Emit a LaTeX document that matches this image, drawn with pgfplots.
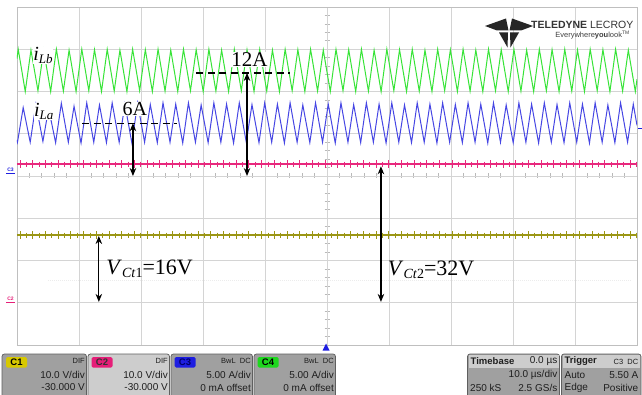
\documentclass[border=0pt]{standalone}
\usepackage{fontspec}
\setmainfont{Liberation Serif}
\newfontfamily\arial{Liberation Sans}
\usepackage{pgfplots}
\usepackage{pgfplotstable}
\pgfplotsset{compat=1.18}
\usetikzlibrary{arrows.meta}
\definecolor{trgreen}{RGB}{55,228,55}
\definecolor{trblue}{RGB}{70,70,228}
\definecolor{trpink}{RGB}{232,40,125}
\definecolor{trolive}{RGB}{155,150,20}
\definecolor{gridc}{RGB}{212,212,212}
\definecolor{boxbody}{RGB}{160,160,160}
\definecolor{boxlight}{RGB}{205,205,205}
\definecolor{boxedge}{RGB}{95,95,95}
\definecolor{lyellow}{RGB}{215,200,0}
\definecolor{lpink}{RGB}{230,30,120}
\definecolor{lblue}{RGB}{30,30,225}
\definecolor{lgreen}{RGB}{30,215,30}
\definecolor{txt}{RGB}{30,30,30}

\pgfplotstableread[row sep=\\]{
x yp yo\\
0.50 0.28 -1.40\\ 1.53 0.28 -1.40\\ 2.55 0.28 -1.40\\ 3.58 0.28 -1.40\\ 4.60 0.28 -1.40\\
5.63 0.28 -1.40\\ 6.65 0.28 -1.40\\ 7.68 0.28 -1.40\\ 8.70 0.28 -1.40\\ 9.73 0.28 -1.40\\
10.75 0.28 -1.40\\ 11.78 0.28 -1.40\\ 12.80 0.28 -1.40\\ 13.83 0.28 -1.40\\ 14.85 0.28 -1.40\\
15.88 0.28 -1.40\\ 16.90 0.28 -1.40\\ 17.93 0.28 -1.40\\ 18.95 0.28 -1.40\\ 19.98 0.28 -1.40\\
21.00 0.28 -1.40\\ 22.03 0.28 -1.40\\ 23.05 0.28 -1.40\\ 24.08 0.28 -1.40\\ 25.10 0.28 -1.40\\
26.13 0.28 -1.40\\ 27.15 0.28 -1.40\\ 28.18 0.28 -1.40\\ 29.20 0.28 -1.40\\ 30.23 0.28 -1.40\\
31.25 0.28 -1.40\\ 32.28 0.28 -1.40\\ 33.30 0.28 -1.40\\ 34.33 0.28 -1.40\\ 35.35 0.28 -1.40\\
36.38 0.28 -1.40\\ 37.40 0.28 -1.40\\ 38.43 0.28 -1.40\\ 39.45 0.28 -1.40\\ 40.48 0.28 -1.40\\
41.50 0.28 -1.40\\ 42.53 0.28 -1.40\\ 43.55 0.28 -1.40\\ 44.58 0.28 -1.40\\ 45.60 0.28 -1.40\\
46.63 0.28 -1.40\\ 47.65 0.28 -1.40\\ 48.68 0.28 -1.40\\ 49.70 0.28 -1.40\\ 50.73 0.28 -1.40\\
51.75 0.28 -1.40\\ 52.78 0.28 -1.40\\ 53.80 0.28 -1.40\\ 54.83 0.28 -1.40\\ 55.85 0.28 -1.40\\
56.88 0.28 -1.40\\ 57.90 0.28 -1.40\\ 58.93 0.28 -1.40\\ 59.95 0.28 -1.40\\ 60.98 0.28 -1.40\\
62.00 0.28 -1.40\\ 63.03 0.28 -1.40\\ 64.05 0.28 -1.40\\ 65.08 0.28 -1.40\\ 66.10 0.28 -1.40\\
67.13 0.28 -1.40\\ 68.15 0.28 -1.40\\ 69.18 0.28 -1.40\\ 70.20 0.28 -1.40\\ 71.23 0.28 -1.40\\
72.25 0.28 -1.40\\ 73.28 0.28 -1.40\\ 74.30 0.28 -1.40\\ 75.33 0.28 -1.40\\ 76.35 0.28 -1.40\\
77.38 0.28 -1.40\\ 78.40 0.28 -1.40\\ 79.43 0.28 -1.40\\ 80.45 0.28 -1.40\\ 81.48 0.28 -1.40\\
82.50 0.28 -1.40\\ 83.53 0.28 -1.40\\ 84.55 0.28 -1.40\\ 85.58 0.28 -1.40\\ 86.60 0.28 -1.40\\
87.63 0.28 -1.40\\ 88.65 0.28 -1.40\\ 89.68 0.28 -1.40\\ 90.70 0.28 -1.40\\ 91.73 0.28 -1.40\\
92.75 0.28 -1.40\\ 93.78 0.28 -1.40\\ 94.80 0.28 -1.40\\ 95.83 0.28 -1.40\\ 96.85 0.28 -1.40\\
97.88 0.28 -1.40\\ 98.90 0.28 -1.40\\ 99.93 0.28 -1.40\\
}\spikes

\begin{document}
\begin{tikzpicture}[x=1pt,y=1pt]
\useasboundingbox (0,0) rectangle (642,394);
\fill[white] (0,0) rectangle (642,394);
% centre-axis minor ticks (pixel coordinates)
\begin{scope}[shift={(0,394)}, y=-1pt]
\foreach \i in {0,...,50} \draw[gray!55, line width=0.7pt] ({17+\i*12.4},173.5) -- ({17+\i*12.4},178.5);
\foreach \j in {0,...,40} \draw[gray!55, line width=0.7pt] (324.5,{7+\j*8.45}) -- (329.5,{7+\j*8.45});
\end{scope}
\begin{axis}[at={(17pt,49pt)}, anchor=south west, scale only axis,
  width=620pt, height=338pt,
  xmin=0, xmax=100, ymin=-4, ymax=4,
  xtick={0,10,...,100}, ytick={-4,-3,...,4},
  xticklabels={}, yticklabels={}, major tick length=0pt,
  grid=major, grid style={gridc, line width=0.9pt},
  axis line style={draw=gray!50, line width=0.9pt},
  clip=true]
% faint ghost trace
\draw[gray!15, densely dotted, line width=1pt] (axis cs:5,-2.48) -- (axis cs:99,-2.48);
% iLb (green)
\addplot[trgreen, line width=1pt, mark=none] coordinates {
(0,2.78) (0.20,3.00) (1.33,2.00) (2.25,2.98) (3.38,2.02) (4.30,2.98) (5.43,2.00) (6.35,3.00)
(7.48,2.01) (8.40,2.98) (9.53,2.00) (10.45,3.00) (11.58,2.02) (12.50,2.99) (13.63,2.00) (14.55,3.00)
(15.68,2.01) (16.60,2.98) (17.73,2.00) (18.65,3.00) (19.78,2.02) (20.70,2.99) (21.83,2.00) (22.75,3.00)
(23.88,2.01) (24.80,2.98) (25.93,2.00) (26.85,3.00) (27.98,2.02) (28.90,2.99) (30.03,2.00) (30.95,3.00)
(32.08,2.01) (33.00,2.98) (34.13,2.00) (35.05,3.00) (36.18,2.02) (37.10,2.99) (38.23,2.00) (39.15,3.00)
(40.28,2.01) (41.20,2.98) (42.33,2.00) (43.25,3.00) (44.38,2.02) (45.30,2.99) (46.43,2.00) (47.35,3.00)
(48.48,2.01) (49.40,2.98) (50.53,2.00) (51.45,3.00) (52.58,2.02) (53.50,2.99) (54.63,2.00) (55.55,3.00)
(56.68,2.01) (57.60,2.98) (58.73,2.00) (59.65,3.00) (60.78,2.02) (61.70,2.99) (62.83,2.00) (63.75,3.00)
(64.88,2.01) (65.80,2.98) (66.93,2.00) (67.85,3.00) (68.98,2.02) (69.90,2.99) (71.03,2.00) (71.95,3.00)
(73.08,2.01) (74.00,2.98) (75.13,2.00) (76.05,3.00) (77.18,2.02) (78.10,2.99) (79.23,2.00) (80.15,3.00)
(81.28,2.01) (82.20,2.98) (83.33,2.00) (84.25,3.00) (85.38,2.02) (86.30,2.99) (87.43,2.00) (88.35,3.00)
(89.48,2.01) (90.40,2.98) (91.53,2.00) (92.45,3.00) (93.58,2.02) (94.50,2.99) (95.63,2.00) (96.55,3.00)
(97.68,2.01) (98.60,2.98) (99.73,2.00) (100.00,2.29)};
% iLa (blue)
\addplot[trblue, line width=1pt, mark=none] coordinates {
(0,0.85) (0.08,0.80) (1.00,1.62) (2.13,0.80) (3.05,1.70) (4.18,0.82) (5.10,1.60) (6.23,0.79)
(7.15,1.72) (8.28,0.80) (9.20,1.65) (10.33,0.78) (11.25,1.73) (12.38,0.80) (13.30,1.68) (14.43,0.79)
(15.35,1.73) (16.48,0.80) (17.40,1.70) (18.53,0.78) (19.45,1.73) (20.58,0.80) (21.50,1.69) (22.63,0.79)
(23.55,1.73) (24.68,0.80) (25.60,1.70) (26.73,0.78) (27.65,1.73) (28.78,0.80) (29.70,1.68) (30.83,0.79)
(31.75,1.73) (32.88,0.80) (33.80,1.70) (34.93,0.78) (35.85,1.73) (36.98,0.80) (37.90,1.69) (39.03,0.79)
(39.95,1.73) (41.08,0.80) (42.00,1.70) (43.13,0.78) (44.05,1.73) (45.18,0.80) (46.10,1.68) (47.23,0.79)
(48.15,1.73) (49.28,0.80) (50.20,1.70) (51.33,0.78) (52.25,1.73) (53.38,0.80) (54.30,1.69) (55.43,0.79)
(56.35,1.73) (57.48,0.80) (58.40,1.70) (59.53,0.78) (60.45,1.73) (61.58,0.80) (62.50,1.68) (63.63,0.79)
(64.55,1.73) (65.68,0.80) (66.60,1.70) (67.73,0.78) (68.65,1.73) (69.78,0.80) (70.70,1.69) (71.83,0.79)
(72.75,1.73) (73.88,0.80) (74.80,1.70) (75.93,0.78) (76.85,1.73) (77.98,0.80) (78.90,1.68) (80.03,0.79)
(80.95,1.73) (82.08,0.80) (83.00,1.70) (84.13,0.78) (85.05,1.73) (86.18,0.80) (87.10,1.69) (88.23,0.79)
(89.15,1.73) (90.28,0.80) (91.20,1.70) (92.33,0.78) (93.25,1.73) (94.38,0.80) (95.30,1.68) (96.43,0.79)
(97.35,1.73) (98.48,0.80) (99.40,1.70) (100.00,1.20)};
% VCt2 (pink) and VCt1 (olive): flat level with switching spikes
\addplot[trpink, line width=1.5pt, mark=none] coordinates {(0,0.28) (100,0.28)};
\addplot[trpink, only marks, mark=|, mark size=2.5pt, mark options={line width=0.9pt}] table[x=x,y=yp] {\spikes};
\addplot[trpink, only marks, mark=|, mark size=4pt, mark options={line width=0.9pt}, each nth point=2] table[x=x,y=yp] {\spikes};
\addplot[trolive, line width=1.5pt, mark=none] coordinates {(0,-1.40) (100,-1.40)};
\addplot[trolive, only marks, mark=|, mark size=2.5pt, mark options={line width=0.9pt}] table[x=x,y=yo] {\spikes};
\addplot[trolive, only marks, mark=|, mark size=4pt, mark options={line width=0.9pt}, each nth point=2] table[x=x,y=yo] {\spikes};
% annotations
\tikzset{dbl/.style={black, line width=1.2pt, {Stealth[length=8pt,width=6.5pt]}-{Stealth[length=8pt,width=6.5pt]}}}
\draw[black, line width=1.2pt, dash pattern=on 7pt off 4.5pt] (axis cs:10.5,1.25) -- (axis cs:25.8,1.25);
\draw[dbl] (axis cs:18.7,1.25) -- (axis cs:18.7,0.0);
\draw[black, line width=1.2pt, dash pattern=on 7pt off 4.5pt] (axis cs:28.9,2.44) -- (axis cs:44.0,2.44);
\draw[dbl] (axis cs:37.1,2.44) -- (axis cs:37.1,0.0);
\draw[dbl] (axis cs:13.2,-1.42) -- (axis cs:13.2,-2.98);
\draw[dbl] (axis cs:58.7,0.23) -- (axis cs:58.7,-2.98);
\node[fill=white, inner sep=0.5pt] at (axis cs:4.2,2.86) {\fontsize{20}{20}\selectfont\textit{i}\raisebox{-0.3ex}{\fontsize{13}{13}\selectfont\textit{Lb}}};
\node[fill=white, inner sep=0.5pt] at (axis cs:4.3,1.53) {\fontsize{20}{20}\selectfont\textit{i}\raisebox{-0.3ex}{\fontsize{13}{13}\selectfont\textit{La}}};
\node[fill=white, inner sep=0.5pt] at (axis cs:19.0,1.59) {\fontsize{20}{20}\selectfont 6A};
\node[fill=white, inner sep=0.5pt] at (axis cs:37.5,2.76) {\fontsize{21}{21}\selectfont 12A};
\node[anchor=west, inner sep=0pt] at (axis cs:14.4,-2.20) {\fontsize{22}{22}\selectfont\textit{V}\raisebox{-0.35ex}{\fontsize{14}{14}\selectfont\textit{Ct}1}=16V};
\node[anchor=west, inner sep=0pt] at (axis cs:59.8,-2.22) {\fontsize{22}{22}\selectfont\textit{V}\raisebox{-0.35ex}{\fontsize{14}{14}\selectfont\textit{Ct}2}=32V};
\end{axis}
% scope in pixel coordinates for scope furniture
\begin{scope}[shift={(0,394)}, y=-1pt]
% channel markers on the left
\node[lblue, font=\arial\bfseries\fontsize{5}{5}\selectfont, inner sep=0pt] at (10.5,169.5) {C3};
\draw[lblue, line width=0.8pt] (6,173) -- (15,173);
\node[lpink, font=\arial\bfseries\fontsize{5}{5}\selectfont, inner sep=0pt] at (10.5,298.5) {C2};
\draw[lpink, line width=0.8pt] (6,302) -- (15,302);
% trigger position and level markers
\fill[lblue] (326,343.5) -- (322.5,350.5) -- (329.5,350.5) -- cycle;
\draw[lblue, line width=1pt] (638,129) -- (642,129);
% logo
\fill[black!85] (485,26) -- (506,18.5) -- (508.5,30.5) -- (497,30.5) -- cycle;
\fill[black!85] (533,26) -- (512,18.5) -- (509.5,30.5) -- (521,30.5) -- cycle;
\fill[black!85] (499,32.5) -- (508,32.5) -- (507.5,47.5) -- cycle;
\fill[black!85] (510,32.5) -- (519,32.5) -- (510.5,47.5) -- cycle;
\node[anchor=east, inner sep=0pt, text=black!80, font=\arial\fontsize{10.5}{11}\selectfont] at (633.5,25) {\textbf{TELEDYNE} LECROY};
\node[anchor=east, inner sep=0pt, text=black!75, font=\arial\fontsize{7.5}{8}\selectfont] at (630,35.5) {Everywhere\textbf{you}look\textsuperscript{\tiny TM}};
% channel boxes
\tikzset{bx/.style={draw=boxedge, line width=0.7pt, rounded corners=2.5pt},
         sm/.style={font=\arial\fontsize{7.5}{8}\selectfont, text=txt, inner sep=0pt},
         md/.style={font=\arial\fontsize{10}{11}\selectfont, text=txt, inner sep=0pt},
         lb/.style={font=\arial\bfseries\fontsize{9.5}{10}\selectfont, inner sep=0pt}}
% C1
\filldraw[bx, fill=boxbody] (2,354) rectangle (86.5,398);
\fill[lyellow, rounded corners=1.5pt] (6,357) rectangle (27,367.5);
\node[lb, text=black] at (16.5,362.3) {C1};
\node[sm, anchor=east] at (85,361) {DIF};
\node[md, anchor=east] at (85,375) {10.0 V/div};
\node[md, anchor=east] at (85,387.5) {-30.000 V};
% C2
\filldraw[bx, fill=boxlight] (88,354) rectangle (169.5,398);
\fill[lpink, rounded corners=1.5pt] (91.5,357) rectangle (112.5,367.5);
\node[lb, text=black!80] at (102,362.3) {C2};
\node[sm, anchor=east] at (168,361) {DIF};
\node[md, anchor=east] at (168,375) {10.0 V/div};
\node[md, anchor=east] at (168,387.5) {-30.000 V};
% C3
\filldraw[bx, fill=boxbody] (171,354) rectangle (252.5,398);
\fill[lblue, rounded corners=1.5pt] (174.5,357) rectangle (195.5,367.5);
\node[lb, text=blue!40!black] at (185,362.3) {C3};
\node[sm, anchor=east] at (251,361) {BwL\ \ DC};
\node[md, anchor=east] at (251,375) {5.00 A/div};
\node[md, anchor=east] at (251,387.5) {0 mA offset};
% C4
\filldraw[bx, fill=boxbody] (254,354) rectangle (335.5,398);
\fill[lgreen, rounded corners=1.5pt] (257.5,357) rectangle (278.5,367.5);
\node[lb, text=black] at (268,362.3) {C4};
\node[sm, anchor=east] at (334,361) {BwL\ \ DC};
\node[md, anchor=east] at (334,375) {5.00 A/div};
\node[md, anchor=east] at (334,387.5) {0 mA offset};
% Timebase
\filldraw[bx, fill=boxbody] (467.5,354) rectangle (559.5,398);
\fill[boxlight] (468.5,355) rectangle (558.5,368);
\node[md, anchor=west, font=\arial\bfseries\fontsize{9.5}{10}\selectfont] at (470.5,361.5) {Timebase};
\node[md, anchor=east] at (557.5,361.5) {0.0 µs};
\node[md, anchor=east] at (557.5,375) {10.0 µs/div};
\node[md, anchor=west] at (470,387.5) {250 kS};
\node[md, anchor=east] at (557.5,387.5) {2.5 GS/s};
% Trigger
\filldraw[bx, fill=boxbody] (561.5,354) rectangle (641,398);
\fill[boxlight] (562.5,355) rectangle (640,368);
\node[md, anchor=west, font=\arial\bfseries\fontsize{9.5}{10}\selectfont] at (564.5,361.5) {Trigger};
\node[sm, anchor=east] at (638.5,361.5) {C3\ \ DC};
\node[md, anchor=west] at (564.5,375) {Auto};
\node[md, anchor=east] at (638.5,375) {5.50 A};
\node[md, anchor=west] at (564.5,387.5) {Edge};
\node[md, anchor=east] at (638.5,387.5) {Positive};
\end{scope}
\end{tikzpicture}
\end{document}
